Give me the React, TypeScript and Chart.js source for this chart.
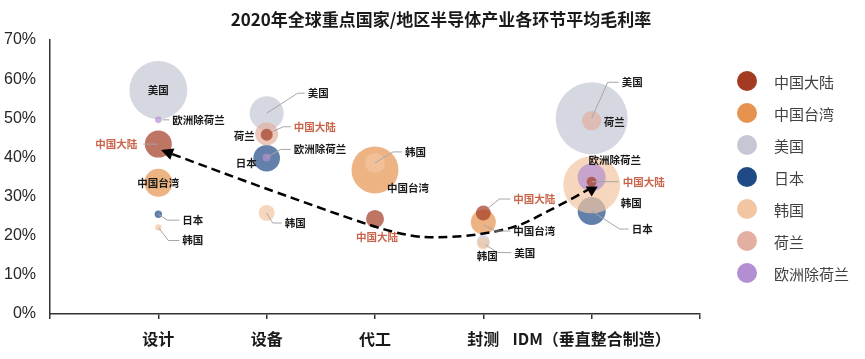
import React, { useEffect, useRef } from 'react';
import { Chart, registerables } from 'chart.js';

Chart.register(...registerables);

// ---------- data ----------
const categories = ['设计', '设备', '代工', '封测', 'IDM（垂直整合制造）'];
const seriesNames = ['中国大陆', '中国台湾', '美国', '日本', '韩国', '荷兰', '欧洲除荷兰'];

// average gross margin (%) per category, null = not shown
const mainlandMargin = [43.4, 45.8, 24.3, 25.8, 33.8];
const taiwanMargin = [33.5, null, 36.8, 23.5, null];
const usMargin = [57.2, 51.3, null, 18.5, 50.0];
const japanMargin = [25.5, 39.8, null, null, 26.3];
const koreaMargin = [22.1, 25.8, 38.6, 18.0, 33.0];
const netherlandsMargin = [null, 46.0, null, null, 49.4];
const europeMargin = [49.6, 40.0, null, null, 34.9];

// bubble size values
const mainlandSize = [13.5, 6, 9, 7.5, 5];
const taiwanSize = [14, null, 23.5, 12.5, null];
const usSize = [29, 17, null, 6.5, 36];
const japanSize = [3.7, 13.3, null, null, 14];
const koreaSize = [3.2, 8, 10, 6, 28.5];
const netherlandsSize = [null, 11.5, null, null, 9.7];
const europeSize = [3.3, 4, null, null, 14];

const yTicks = [0, 10, 20, 30, 40, 50, 60, 70];
const title = '2020年全球重点国家/地区半导体产业各环节平均毛利率';

// trend arrow path in data units [category position, %]
const trendPath = [
  [1.025, 41.9],
  [2.2, 30.0],
  [3.17, 21.0],
  [3.7, 19.7],
  [4.25, 22.0],
  [4.62, 26.6],
  [4.97, 31.8],
];
const trendEndTip = [5.0, 30.0];

// ---------- styles ----------
const seriesColors = ['#A33B22', '#E5934F', '#C5C8D4', '#1F4A86', '#F2C6A2', '#E3AFA0', '#B48ED2'];
const drawOrder = [0, 5, 6, 4, 3, 2, 1]; // lower = drawn on top
const BUBBLE_ALPHA = 0.7;
const LABEL_RED = '#C9644B';
const LABEL_DARK = '#1A1A1A';
const LEADER = '#A6A6A6';
const TITLE_X = 441;

type LabelSpec = { dx: number; dy: number; align?: CanvasTextAlign; leader?: number[][] } | null;

// label placement (pixel offsets from bubble centre), [series][category]
const LABELS: LabelSpec[][] = [
  // 中国大陆
  [
    { dx: -21, dy: 0, align: 'right', leader: [[-1, 0], [-15, 0]] },
    { dx: 27, dy: -8, leader: [[5, -3], [17, -8], [24, -8]] },
    { dx: 2, dy: 18, align: 'center' },
    { dx: 30, dy: -14, leader: [[5, -5], [16, -14], [27, -14]] },
    { dx: 31, dy: 0, leader: [[0, 0], [27, 0]] },
  ],
  // 中国台湾
  [
    { dx: 0, dy: 0, align: 'center' },
    null,
    { dx: 12, dy: 18 },
    { dx: 30, dy: 9, leader: [[0, 3], [12, 9], [27, 9]] },
    null,
  ],
  // 美国
  [
    { dx: 0, dy: 0, align: 'center' },
    { dx: 41, dy: -20, leader: [[0, 0], [31, -20], [38, -20]] },
    null,
    { dx: 31, dy: 11, leader: [[2, 3], [14, 11], [28, 11]] },
    { dx: 30, dy: -36, leader: [[0, 0], [16, -36], [27, -36]] },
  ],
  // 日本
  [
    { dx: 24, dy: 6, leader: [[0, 0], [9, 6], [21, 6]] },
    { dx: -10, dy: 5, align: 'right' },
    null,
    null,
    { dx: 40, dy: 18, leader: [[0, 0], [28, 18], [37, 18]] },
  ],
  // 韩国
  [
    { dx: 24, dy: 13, leader: [[0, 0], [10, 13], [21, 13]] },
    { dx: 18, dy: 10, leader: [[0, 0], [6, 10], [15, 10]] },
    { dx: 30, dy: -11, leader: [[0, 0], [18, -11], [27, -11]] },
    { dx: 4, dy: 12, align: 'center' },
    { dx: 29, dy: 18 },
  ],
  // 荷兰
  [
    null,
    { dx: -12, dy: 2, align: 'right' },
    null,
    null,
    { dx: 12, dy: 1 },
  ],
  // 欧洲除荷兰
  [
    { dx: 14, dy: 0, leader: [[4, 0], [11, 0]] },
    { dx: 27, dy: -8, leader: [[0, 0], [14, -8], [24, -8]] },
    null,
    null,
    { dx: 23, dy: -17, align: 'center' },
  ],
];

const margins = [mainlandMargin, taiwanMargin, usMargin, japanMargin, koreaMargin, netherlandsMargin, europeMargin];
const sizes = [mainlandSize, taiwanSize, usSize, japanSize, koreaSize, netherlandsSize, europeSize];

function withAlpha(hex: string, a: number) {
  const n = parseInt(hex.slice(1), 16);
  return `rgba(${(n >> 16) & 255},${(n >> 8) & 255},${n & 255},${a})`;
}

const LABEL_FONT = 'bold 10.5px "Noto Sans CJK SC", sans-serif';

const overlayPlugin = {
  id: 'overlay',
  afterDatasetsDraw(chart: any) {
    const ctx: CanvasRenderingContext2D = chart.ctx;
    const xs = chart.scales.x;
    const ys = chart.scales.y;

    // trend arrow
    const pts = trendPath.map(([x, y]) => [xs.getPixelForValue(x), ys.getPixelForValue(y)]);
    ctx.save();
    ctx.strokeStyle = '#000';
    ctx.fillStyle = '#000';
    ctx.lineWidth = 2.5;
    ctx.setLineDash([9, 5]);
    ctx.beginPath();
    // start arrowhead geometry
    const t = pts[0];
    const p1 = pts[1];
    const cpStart = [t[0] + (p1[0] - t[0]) / 6 * 2, t[1] + (p1[1] - t[1]) / 6 * 2];
    let dx = t[0] - cpStart[0];
    let dy = t[1] - cpStart[1];
    const len = Math.hypot(dx, dy);
    dx /= len; dy /= len;
    const base = [t[0] - dx * 12, t[1] - dy * 12];
    ctx.moveTo(base[0], base[1]);
    for (let i = 0; i < pts.length - 1; i++) {
      const a = pts[i - 1] || pts[i];
      const b = pts[i];
      const c = pts[i + 1];
      const d = pts[i + 2] || c;
      const c1 = [b[0] + (c[0] - a[0]) / 6, b[1] + (c[1] - a[1]) / 6];
      const c2 = [c[0] - (d[0] - b[0]) / 6, c[1] - (d[1] - b[1]) / 6];
      if (i === 0) ctx.moveTo(base[0], base[1]);
      ctx.bezierCurveTo(c1[0], c1[1], c2[0], c2[1], c[0], c[1]);
    }
    ctx.stroke();
    ctx.setLineDash([]);
    // start arrowhead
    ctx.beginPath();
    ctx.moveTo(t[0], t[1]);
    ctx.lineTo(base[0] - dy * 6, base[1] + dx * 6);
    ctx.lineTo(base[0] + dy * 6, base[1] - dx * 6);
    ctx.closePath();
    ctx.fill();
    // end arrowhead (pointing down)
    const tip = [xs.getPixelForValue(trendEndTip[0]), ys.getPixelForValue(trendEndTip[1])];
    ctx.beginPath();
    ctx.moveTo(tip[0], tip[1]);
    ctx.lineTo(tip[0] - 6, tip[1] - 10);
    ctx.lineTo(tip[0] + 6, tip[1] - 10);
    ctx.closePath();
    ctx.fill();
    ctx.restore();

    // data labels
    ctx.save();
    ctx.font = LABEL_FONT;
    ctx.textBaseline = 'middle';
    chart.data.datasets.forEach((ds: any, di: number) => {
      const meta = chart.getDatasetMeta(di);
      ds.data.forEach((pt: any, i: number) => {
        const spec = LABELS[di][pt.x - 1];
        if (!spec) return;
        const el = meta.data[i];
        const cx = el.x;
        const cy = el.y;
        if (spec.leader) {
          ctx.strokeStyle = LEADER;
          ctx.lineWidth = 1;
          ctx.beginPath();
          spec.leader.forEach(([lx, ly], k) => {
            if (k === 0) ctx.moveTo(cx + lx, cy + ly);
            else ctx.lineTo(cx + lx, cy + ly);
          });
          ctx.stroke();
        }
        ctx.fillStyle = di === 0 ? LABEL_RED : LABEL_DARK;
        ctx.textAlign = spec.align || 'left';
        ctx.fillText(ds.label, cx + spec.dx, cy + spec.dy);
      });
    });
    ctx.restore();
  },
  afterDraw(chart: any) {
    const ctx: CanvasRenderingContext2D = chart.ctx;
    const area = chart.chartArea;
    ctx.save();
    // title
    ctx.font = 'bold 17px "Noto Sans CJK SC", sans-serif';
    ctx.fillStyle = '#1A1A1A';
    ctx.textAlign = 'center';
    ctx.textBaseline = 'middle';
    ctx.fillText(title, TITLE_X, 20);
    // legend
    const n = chart.data.datasets.length;
    const spacing = 32;
    const midY = (area.top + area.bottom) / 2;
    const startY = midY - ((n - 1) / 2) * spacing;
    const cx = area.right + 47;
    ctx.font = '15px "Noto Sans CJK SC", sans-serif';
    ctx.textAlign = 'left';
    chart.data.datasets.forEach((ds: any, i: number) => {
      const y = startY + i * spacing;
      ctx.fillStyle = seriesColors[i];
      ctx.beginPath();
      ctx.arc(cx, y, 10, 0, Math.PI * 2);
      ctx.fill();
      ctx.fillStyle = '#404040';
      ctx.fillText(ds.label, cx + 27, y + 1);
    });
    ctx.restore();
  },
};

export default function App() {
  const ref = useRef<HTMLCanvasElement | null>(null);

  useEffect(() => {
    if (!ref.current) return;
    const datasets = seriesNames.map((name, si) => ({
      label: name,
      order: drawOrder[si],
      data: categories
        .map((_, ci) => ({ x: ci + 1, y: margins[si][ci], r: sizes[si][ci] }))
        .filter((p) => p.y !== null && p.r !== null) as any[],
      backgroundColor: withAlpha(seriesColors[si], BUBBLE_ALPHA),
      borderWidth: 0,
      hoverBorderWidth: 0,
      clip: false as any,
    }));

    const chart = new Chart(ref.current, {
      type: 'bubble',
      data: { datasets },
      options: {
        responsive: true,
        maintainAspectRatio: false,
        animation: false,
        events: [],
        layout: { padding: { top: 40, right: 165, left: 0, bottom: 0 } },
        plugins: {
          legend: { display: false },
          title: { display: false },
          tooltip: { enabled: false },
        },
        scales: {
          x: {
            type: 'linear',
            min: 0,
            max: categories.length + 1,
            afterFit: (axis: any) => { axis.height = 45; },
            afterBuildTicks: (axis: any) => {
              axis.ticks = Array.from({ length: categories.length + 2 }, (_, i) => ({ value: i }));
            },
            grid: {
              display: true,
              drawOnChartArea: false,
              drawTicks: true,
              tickLength: 5,
              color: '#333',
              lineWidth: 1.5,
            },
            border: { display: true, color: '#333', width: 1.5 },
            ticks: {
              autoSkip: false,
              maxRotation: 0,
              padding: 10,
              color: '#1A1A1A',
              font: { family: '"Noto Sans CJK SC", sans-serif', size: 16, weight: 'bold' },
              callback: (v: any) => categories[Number(v) - 1] || '',
            },
          },
          y: {
            type: 'linear',
            min: yTicks[0],
            max: yTicks[yTicks.length - 1],
            afterFit: (axis: any) => { axis.width = 50; },
            afterBuildTicks: (axis: any) => {
              axis.ticks = yTicks.map((v) => ({ value: v }));
            },
            grid: { display: false, drawTicks: false },
            border: { display: true, color: '#333', width: 1.5 },
            ticks: {
              padding: 14,
              color: '#262626',
              font: { family: '"Liberation Sans", Arial, sans-serif', size: 16 },
              callback: (v: any) => `${v}%`,
            },
          },
        },
      } as any,
      plugins: [overlayPlugin],
    });
    return () => chart.destroy();
  }, []);

  return (
    <div style={{ position: 'fixed', left: 0, top: 0, width: 865, height: 359, background: '#fff' }}>
      <canvas ref={ref} />
    </div>
  );
}
